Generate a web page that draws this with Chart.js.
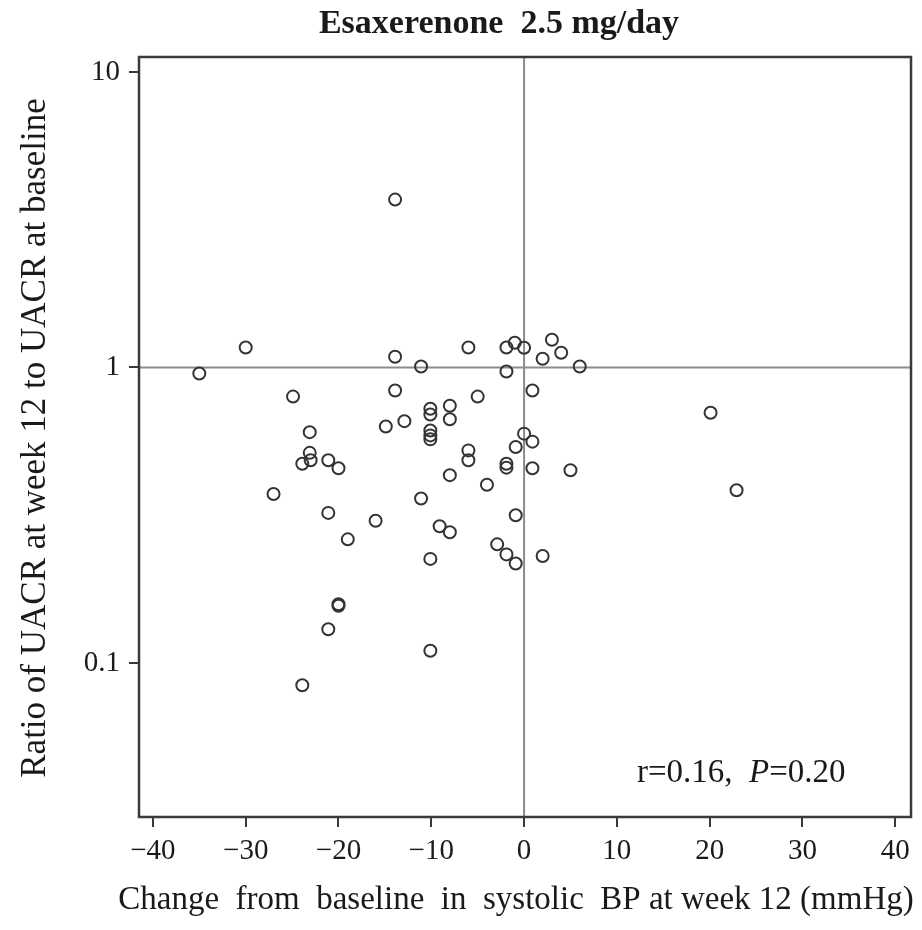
<!DOCTYPE html>
<html><head><meta charset="utf-8">
<script src="https://cdn.jsdelivr.net/npm/chart.js@4/dist/chart.umd.min.js"></script>
<style>html,body{margin:0;padding:0;background:#fff;} #wrap{width:922px;height:930px;position:relative;}</style>
</head><body><div id="wrap"><canvas id="c" width="922" height="930"></canvas></div>
<script>
const chartTitle = 'Esaxerenone  2.5 mg/day';
const xAxisTitle = 'Change  from  baseline  in  systolic  BP at week 12 (mmHg)';
const yAxisTitle = 'Ratio of UACR at week 12 to UACR at baseline';
const statText = ['r=0.16,  ', 'P', '=0.20'];
const xTickValues = [-40, -30, -20, -10, 0, 10, 20, 30, 40];
const xTickLabels = ['\u221240', '\u221230', '\u221220', '\u221210', '0', '10', '20', '30', '40'];
const yTickValues = [0.1, 1, 10];
const yTickLabels = ['0.1', '1', '10'];
const sbpChange = [
  -35.0, -30.0, -24.9, -23.1, -23.1, -23.0, -23.9, -21.1, -20.0, -27.0,
  -21.1, -16.0, -19.0, -20.0, -20.0, -21.1, -23.9, -13.9, -13.9, -13.9,
  -14.9, -12.9, -11.1, -11.1, -10.1, -10.1, -10.1, -10.1, -10.1, -10.1,
  -10.1, -8.0, -8.0, -8.0, -8.0, -9.1, -6.0, -6.0, -6.0, -5.0,
  -4.0, -2.9, -1.9, -1.9, -1.9, -1.9, -1.9, -1.0, -0.9, -0.9,
  -0.9, 0.0, 0.0, 0.9, 0.9, 0.9, 2.0, 2.0, 3.0, 4.0,
  6.0, 5.0, 20.1, 22.9
];
const uacrRatio = [
  0.954, 1.169, 0.797, 0.604, 0.514, 0.485, 0.472, 0.485, 0.456, 0.373,
  0.322, 0.303, 0.262, 0.158, 0.156, 0.130, 0.084, 3.70, 1.087, 0.836,
  0.631, 0.658, 1.008, 0.360, 0.725, 0.693, 0.612, 0.589, 0.571, 0.225,
  0.110, 0.742, 0.668, 0.432, 0.277, 0.290, 1.169, 0.524, 0.485, 0.797,
  0.401, 0.252, 1.169, 0.969, 0.472, 0.458, 0.233, 1.212, 0.538, 0.316,
  0.217, 1.166, 0.597, 0.836, 0.561, 0.456, 1.070, 0.230, 1.241, 1.121,
  1.008, 0.449, 0.703, 0.384
];

const points = sbpChange.map((x, i) => ({x: x, y: uacrRatio[i]}));
const SERIF = '"Liberation Serif", "Times New Roman", serif';
const TXT = '#1a1a1a';

const decor = {
  id: 'decor',
  beforeDatasetsDraw(chart) {
    const {ctx, chartArea: a, scales: {x, y}} = chart;
    ctx.save();
    ctx.strokeStyle = '#8c8c8c';
    ctx.lineWidth = 2;
    const x0 = x.getPixelForValue(0);
    const y1 = y.getPixelForValue(1);
    ctx.beginPath();
    ctx.moveTo(x0, a.top); ctx.lineTo(x0, a.bottom);
    ctx.moveTo(a.left, y1); ctx.lineTo(a.right, y1);
    ctx.stroke();
    ctx.restore();
  },
  afterDraw(chart) {
    const {ctx, chartArea: a} = chart;
    ctx.save();
    ctx.strokeStyle = '#3a3a3a';
    ctx.lineWidth = 2.5;
    ctx.strokeRect(a.left, a.top, a.right - a.left, a.bottom - a.top);
    ctx.fillStyle = TXT;
    ctx.textBaseline = 'middle';
    ctx.textAlign = 'center';
    ctx.font = 'bold 34px ' + SERIF;
    ctx.fillText(chartTitle, 499, 24);
    ctx.font = '33px ' + SERIF;
    ctx.fillText(xAxisTitle, 516, 900);
    ctx.save();
    ctx.translate(36, 438);
    ctx.rotate(-Math.PI / 2);
    ctx.font = '35px ' + SERIF;
    ctx.fillText(yAxisTitle, 0, 0);
    ctx.restore();
    ctx.textAlign = 'left';
    ctx.textBaseline = 'alphabetic';
    let sx = 637;
    const by = 782;
    ctx.font = '33px ' + SERIF;
    ctx.fillText(statText[0], sx, by); sx += ctx.measureText(statText[0]).width;
    ctx.font = 'italic 33px ' + SERIF;
    ctx.fillText(statText[1], sx, by); sx += ctx.measureText(statText[1]).width;
    ctx.font = '33px ' + SERIF;
    ctx.fillText(statText[2], sx, by);
    ctx.restore();
  }
};

new Chart(document.getElementById('c'), {
  type: 'scatter',
  data: {
    datasets: [{
      data: points,
      pointStyle: 'circle',
      pointRadius: 6,
      pointBorderWidth: 2,
      pointBorderColor: '#333333',
      pointBackgroundColor: 'rgba(0,0,0,0)',
      showLine: false
    }]
  },
  options: {
    responsive: false,
    animation: false,
    events: [],
    layout: {padding: {left: 0, right: 11, top: 57, bottom: 0}},
    plugins: {legend: {display: false}, tooltip: {enabled: false}, title: {display: false}},
    scales: {
      x: {
        type: 'linear',
        min: -41.5,
        max: 41.7,
        afterBuildTicks: (s) => { s.ticks = xTickValues.map(v => ({value: v})); },
        afterFit: (s) => { s.height = 113; },
        ticks: {
          autoSkip: false, maxRotation: 0, minRotation: 0,
          padding: 7,
          color: TXT,
          font: {family: SERIF, size: 29},
          callback: (v) => xTickLabels[xTickValues.indexOf(v)]
        },
        grid: {drawOnChartArea: false, drawTicks: true, tickLength: 10, color: '#3a3a3a', lineWidth: 2},
        border: {display: false}
      },
      y: {
        type: 'logarithmic',
        min: 0.0301,
        max: 11.24,
        afterBuildTicks: (s) => { s.ticks = yTickValues.map(v => ({value: v})); },
        afterFit: (s) => { s.width = 139; },
        ticks: {
          autoSkip: false,
          padding: 9,
          color: TXT,
          font: {family: SERIF, size: 29},
          callback: (v) => yTickLabels[yTickValues.indexOf(v)]
        },
        grid: {drawOnChartArea: false, drawTicks: true, tickLength: 10, color: '#3a3a3a', lineWidth: 2},
        border: {display: false}
      }
    }
  },
  plugins: [decor]
});
</script>
</body></html>
